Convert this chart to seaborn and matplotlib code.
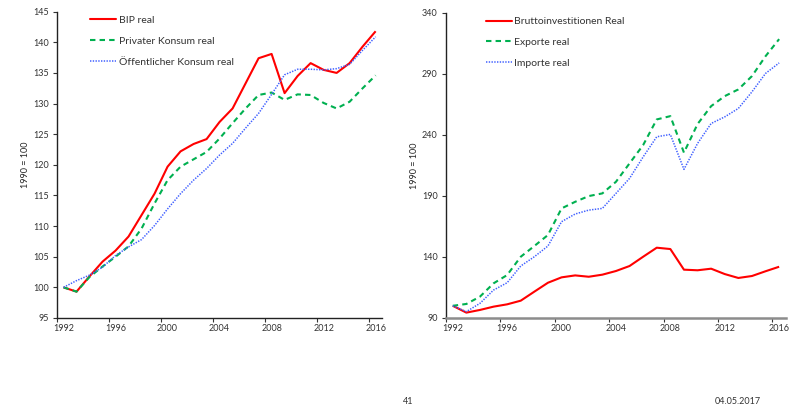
import numpy as np
import pandas as pd
import matplotlib
matplotlib.use("Agg")
import matplotlib.pyplot as plt
import seaborn as sns

years = list(range(1992, 2017))

# Left panel: GDP and consumption (index, 1990 = 100)
bip_real = [100.0, 99.3, 101.8, 104.2, 106.0, 108.3, 111.8, 115.3, 119.7, 122.2,
            123.4, 124.2, 127.0, 129.2, 133.3, 137.4, 138.1, 131.7, 134.5, 136.6,
            135.5, 135.0, 136.6, 139.3, 141.8]
privater_konsum = [100.0, 99.3, 101.7, 103.4, 105.0, 106.7, 109.6, 113.7, 117.5, 119.7,
                   120.9, 122.1, 124.3, 126.8, 129.2, 131.4, 131.8, 130.6, 131.5, 131.4,
                   130.1, 129.2, 130.3, 132.5, 134.6]
oeffentlicher_konsum = [100.0, 101.1, 102.0, 103.3, 105.2, 106.6, 107.8, 110.1, 112.8, 115.3,
                        117.5, 119.4, 121.6, 123.5, 126.0, 128.4, 131.5, 134.7, 135.6, 135.6,
                        135.5, 135.7, 136.4, 138.7, 140.9]

# Right panel: investment and foreign trade (index, 1990 = 100)
bruttoinvestitionen = [100.0, 94.4, 96.6, 99.3, 101.2, 104.2, 111.6, 118.9, 123.3, 124.9,
                       123.8, 125.5, 128.5, 132.6, 140.2, 147.6, 146.5, 129.6, 129.1, 130.4,
                       126.0, 122.8, 124.4, 128.3, 132.0]
exporte = [100.0, 101.5, 107.5, 118.4, 125.2, 140.2, 149.0, 158.0, 179.8, 185.2,
           189.9, 192.1, 201.6, 216.7, 231.7, 252.7, 255.4, 225.5, 248.9, 263.6,
           271.8, 277.3, 288.2, 304.5, 318.5]
importe = [100.0, 95.2, 102.0, 112.9, 118.9, 132.6, 140.2, 149.0, 168.9, 175.2,
           178.4, 179.8, 192.1, 204.4, 222.0, 238.5, 240.4, 211.8, 233.0, 249.4,
           254.8, 261.7, 275.3, 290.4, 299.0]

left_names = ["BIP real", "Privater Konsum real", "Öffentlicher Konsum real"]
right_names = ["Bruttoinvestitionen Real", "Exporte real", "Importe real"]
year_ticks = [1992, 1996, 2000, 2004, 2008, 2012, 2016]
left_yticks = [95, 100, 105, 110, 115, 120, 125, 130, 135, 140, 145]
right_yticks = [90, 140, 190, 240, 290, 340]

RED, GREEN, BLUE = "#FF0000", "#00B050", "#3F5FFF"

sns.set_style("ticks")
plt.rcParams["font.family"] = ["Lato", "DejaVu Sans"]
plt.rcParams["text.color"] = "#333333"
plt.rcParams["xtick.color"] = "#333333"
plt.rcParams["ytick.color"] = "#333333"


def long_frame(names, series):
    rows = []
    for name, vals in zip(names, series):
        for y, v in zip(years, vals):
            rows.append({"Jahr": y, "Index": v, "Reihe": name})
    return pd.DataFrame(rows)


def draw_panel(ax, names, series, ylim, yticks, bottom_spine_color, bottom_lw, legend_x):
    df = long_frame(names, series)
    palette = dict(zip(names, [RED, GREEN, BLUE]))
    dashes = dict(zip(names, ["", (2.6, 2.0), (0.9, 0.9)]))
    sns.lineplot(data=df, x="Jahr", y="Index", hue="Reihe", style="Reihe",
                 palette=palette, dashes=dashes, ax=ax, legend=True)
    widths = [1.5, 1.5, 1.1]
    for line, w in zip(ax.lines[:3], widths):
        line.set_linewidth(w)
        line.set_solid_capstyle("butt")

    ax.set_xlim(1991.5, 2016.5)
    ax.set_ylim(*ylim)
    ax.set_xticks(year_ticks)
    ax.set_xticks([1991.5 + 4 * k for k in range(7)], minor=True)
    ax.tick_params(axis="x", which="major", length=0, labelsize=6.5, pad=4)
    ax.tick_params(axis="x", which="minor", length=3, width=0.8, color="#333333")
    ax.set_yticks(yticks)
    ax.tick_params(axis="y", length=3, width=0.8, labelsize=6.5, pad=3, color="#333333")
    ax.set_xlabel("")
    ax.set_ylabel("1990 = 100", fontsize=6.5, labelpad=2)

    sns.despine(ax=ax)
    ax.spines["left"].set_color("#222222")
    ax.spines["left"].set_linewidth(1.0)
    ax.spines["bottom"].set_color(bottom_spine_color)
    ax.spines["bottom"].set_linewidth(bottom_lw)

    handles, labels = ax.get_legend_handles_labels()
    for h, w in zip(handles, widths):
        h.set_linewidth(w)
    ax.legend(handles[:3], labels[:3], loc="upper left", bbox_to_anchor=(legend_x, 1.0),
              frameon=False, fontsize=7.5, handlelength=2.5, handletextpad=0.2,
              labelspacing=1.1, borderaxespad=0)


fig = plt.figure(figsize=(7.91, 4.09), dpi=100)
ax_left = fig.add_axes([0.0721, 0.2225, 0.411, 0.749])
ax_right = fig.add_axes([0.5638, 0.2225, 0.4298, 0.746])

draw_panel(ax_left, left_names, [bip_real, privater_konsum, oeffentlicher_konsum],
           (95, 145), left_yticks, "#222222", 1.0, 0.09)
draw_panel(ax_right, right_names, [bruttoinvestitionen, exporte, importe],
           (90, 340), right_yticks, "#8C8C8C", 1.8, 0.105)

fig.text(408 / 791, 1 - 401 / 409, "41", fontsize=6.5, ha="center", va="center")
fig.text(738 / 791, 1 - 401 / 409, "04.05.2017", fontsize=6.5, ha="center", va="center")

fig.savefig("out.png", dpi=100)
